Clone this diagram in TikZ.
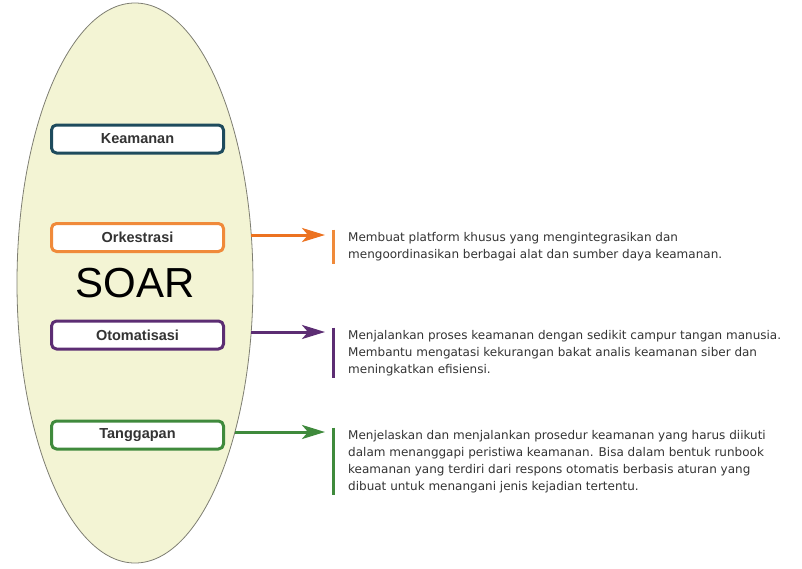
\documentclass[tikz,border=0pt]{standalone}
\usepackage{fontspec}
\setmainfont{Liberation Sans}
\newfontfamily\descfont{DejaVu Sans}
\usetikzlibrary{arrows.meta,shapes.geometric}
\definecolor{soarfill}{HTML}{F3F4D4}
\definecolor{soaredge}{HTML}{7E7E72}
\definecolor{keam}{HTML}{1E4B5D}
\definecolor{orke}{HTML}{F08A3A}
\definecolor{orkearrow}{HTML}{EC7220}
\definecolor{otom}{HTML}{5C2D73}
\definecolor{tang}{HTML}{3F8A3C}
\definecolor{txt}{HTML}{333333}
\begin{document}
\begin{tikzpicture}[x=1pt,y=-1pt,line join=round,>={Stealth[length=23pt,width=14pt,inset=6pt]}]
    \tikzset{box/.style={draw,line width=3pt,rounded corners=5pt,fill=white,
                 minimum width=172pt,minimum height=28pt,inner sep=0pt,
                 font=\fontsize{14.5}{16}\selectfont\bfseries,text=txt},
             desc/.style={anchor=west,inner xsep=0pt,inner ysep=0pt,align=left,
                 font=\descfont\fontsize{12}{16.8}\selectfont,text=txt},
             bar/.style={line width=3pt},
             link/.style={->,line width=3pt}}
    \useasboundingbox (0,0) rectangle (802,568);
    \def \tipx{325}
    \def \barx{333}
    % the oval
    \node[ellipse,draw=soaredge,line width=0.8pt,fill=soarfill,minimum width=236pt,minimum height=560pt,inner sep=0pt] (soar) at (135,283) {};
    \node[font=\fontsize{42}{42}\selectfont] (soartext) at (135,283) {SOAR};
    % boxes
    \node[box,draw=keam] (keamanan) at (137.5,139) {Keamanan};
    \node[box,draw=orke] (orkestrasi) at (137.5,237.5) {Orkestrasi};
    \node[box,draw=otom] (otomatisasi) at (137.5,335) {Otomatisasi};
    \node[box,draw=tang] (tanggapan) at (137.5,435) {Tanggapan};
    % descriptions
    \node[desc] (dorke) at (348,246.5) {\strut Membuat platform khusus yang mengintegrasikan dan\\
        mengoordinasikan berbagai alat dan sumber daya keamanan.\strut};
    \node[desc] (dotom) at (348,353) {\strut Menjalankan proses keamanan dengan sedikit campur tangan manusia.\\
        Membantu mengatasi kekurangan bakat analis keamanan siber dan\\
        meningkatkan efisiensi.\strut};
    \node[desc] (dtang) at (348,461.5) {\strut Menjelaskan dan menjalankan prosedur keamanan yang harus diikuti\\
        dalam menanggapi peristiwa keamanan. Bisa dalam bentuk runbook\\
        keamanan yang terdiri dari respons otomatis berbasis aturan yang\\
        dibuat untuk menangani jenis kejadian tertentu.\strut};
    \draw[bar,orke] (dorke.north west -| \barx,0) -- (dorke.south west -| \barx,0);
    \draw[bar,otom] (dotom.north west -| \barx,0) -- (dotom.south west -| \barx,0);
    \draw[bar,tang] (dtang.north west -| \barx,0) -- (dtang.south west -| \barx,0);
    % arrows, each starting on the oval
    \coordinate (a1) at ([yshift=2.5pt]orkestrasi.east -| 251,0);
    \coordinate (b1) at ([yshift=2.5pt]orkestrasi.east -| \tipx,0);
    \coordinate (a2) at ([yshift=3pt]otomatisasi.east -| 251,0);
    \coordinate (b2) at ([yshift=3pt]otomatisasi.east -| \tipx,0);
    \coordinate (a3) at ([yshift=3pt]tanggapan.east -| 235,0);
    \coordinate (b3) at ([yshift=3pt]tanggapan.east -| \tipx,0);
    \draw[link,orkearrow] (a1) -- (b1);
    \draw[link,otom] (a2) -- (b2);
    \draw[link,tang] (a3) -- (b3);
\end{tikzpicture}
\end{document}
